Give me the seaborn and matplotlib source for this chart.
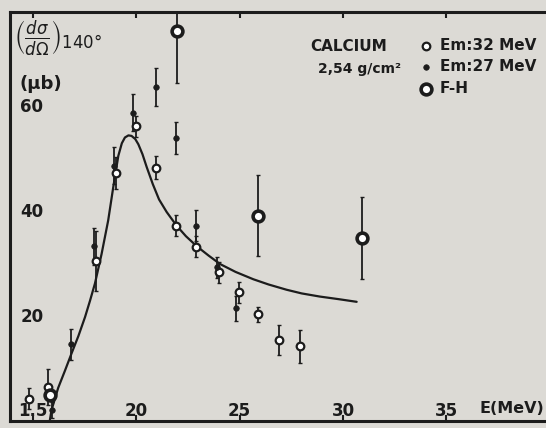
import matplotlib.pyplot as plt
import seaborn as sns

# Em : 32 MeV  (small open circles)
e32 = [14.8, 15.74, 18.05, 19.0, 20.0, 20.95, 21.92, 22.9, 24.0, 24.98, 25.9, 26.9, 27.9]
v32 = [4.0, 6.3, 30.2, 47.0, 55.9, 48.0, 37.0, 33.0, 28.1, 24.3, 20.1, 15.2, 14.0]
d32 = [2.0, 3.4, 5.7, 3.0, 2.0, 2.2, 2.0, 2.0, 2.0, 2.0, 1.5, 2.8, 3.1]

# Em : 27 MeV  (filled dots)
e27 = [15.9, 16.85, 17.97, 18.9, 19.85, 20.97, 21.92, 22.9, 23.92, 24.82]
v27 = [1.9, 14.4, 33.1, 48.4, 58.5, 63.4, 53.7, 37.0, 29.1, 21.3]
d27 = [1.5, 3.0, 3.5, 3.5, 3.5, 3.6, 3.1, 3.0, 2.0, 2.4]

# F-H  (bold circles)
efh = [15.82, 21.98, 25.9, 30.93]
vfh = [4.8, 74.1, 38.9, 34.6]
dfh = [1.0, 10.0, 7.7, 7.8]

# fitted curve
curve_e = [15.82, 15.9, 16.22, 16.55, 16.87, 17.2, 17.52, 17.76, 18.0, 18.32, 18.64,
           18.88, 19.13, 19.3, 19.45, 19.62, 19.77, 19.95, 20.1, 20.3, 20.5, 20.8,
           21.1, 21.47, 21.95, 22.4, 22.92, 23.5, 24.05, 24.8, 25.66, 26.4, 27.27,
           28.0, 28.88, 29.8, 30.66]
curve_v = [0.0, 1.9, 6.1, 9.4, 12.7, 16.0, 19.6, 22.7, 26.0, 31.6, 38.0,
           44.2, 50.3, 52.7, 53.8, 54.2, 54.1, 53.5, 52.5, 50.6, 48.2, 44.9,
           42.0, 39.6, 37.0, 35.0, 33.1, 31.3, 29.7, 28.2, 26.8, 25.8, 24.8,
           24.1, 23.5, 23.0, 22.5]

xticks = [15, 20, 25, 30, 35]
xticklabels = ['1.5', '20', '25', '30', '35']
yticks = [20, 40, 60]

bg = '#dcdad5'
ink = '#1c1c1c'

sns.set_style('white', {'axes.facecolor': bg, 'figure.facecolor': bg})
plt.rcParams['font.family'] = ['DejaVu Sans']

fig = plt.figure(figsize=(5.46, 4.28), dpi=100)
ax = fig.add_axes([10 / 546, 7 / 428, 536 / 546, 409 / 428])

sns.lineplot(x=curve_e, y=curve_v, sort=False, estimator=None, color=ink, lw=1.6, ax=ax)

ax.errorbar(e32, v32, yerr=d32, fmt='none', ecolor=ink, elinewidth=1.3, capsize=1.5)
ax.errorbar(e27, v27, yerr=d27, fmt='none', ecolor=ink, elinewidth=1.3, capsize=1.5)
ax.errorbar(efh, vfh, yerr=dfh, fmt='none', ecolor=ink, elinewidth=1.3, capsize=1.5)

sns.scatterplot(x=e32, y=v32, marker='o', s=30, facecolor='white', edgecolor=ink,
                linewidth=1.6, ax=ax, label='Em:32 MeV', zorder=5)
sns.scatterplot(x=e27, y=v27, marker='o', s=16, color=ink, edgecolor=ink,
                linewidth=0.5, ax=ax, label='Em:27 MeV', zorder=5)
sns.scatterplot(x=efh, y=vfh, marker='o', s=60, facecolor='white', edgecolor=ink,
                linewidth=2.6, ax=ax, label='F-H', zorder=6)

ax.set_xlim(13.89, 39.82)
ax.set_ylim(-0.2, 77.7)
ax.set_xticks(xticks)
ax.set_xticklabels(xticklabels)
ax.set_yticks(yticks)
ax.tick_params(axis='x', direction='in', pad=-14, length=4, width=1.5, top=True,
               bottom=True, labelsize=12, colors=ink)
ax.tick_params(axis='y', direction='in', pad=-24, length=3, width=1.5,
               labelsize=12, colors=ink)
for lab in ax.get_xticklabels() + ax.get_yticklabels():
    lab.set_fontweight('bold')

for side in ['left', 'top', 'bottom']:
    ax.spines[side].set_color(ink)
    ax.spines[side].set_linewidth(2.2)
ax.spines['right'].set_visible(False)

ax.text(0.008, 0.985, r'$\left(\frac{d\sigma}{d\Omega}\right)_{140°}$', transform=ax.transAxes,
        fontsize=17, color=ink, ha='left', va='top')
ax.text(0.018, 0.825, '(μb)', transform=ax.transAxes, fontsize=13, fontweight='bold',
        color=ink, ha='left', va='center')
ax.text(0.997, 0.012, 'E(MeV)', transform=ax.transAxes, fontsize=11.5, fontweight='bold',
        color=ink, ha='right', va='bottom')
ax.text(0.56, 0.915, 'CALCIUM', transform=ax.transAxes, fontsize=11, fontweight='bold',
        color=ink, ha='left', va='center')
ax.text(0.575, 0.86, '2,54 g/cm²', transform=ax.transAxes, fontsize=10, fontweight='bold',
        color=ink, ha='left', va='center')

leg = ax.legend(loc='upper left', bbox_to_anchor=(0.745, 0.955), frameon=False,
                handletextpad=0.3, labelspacing=0.42, handlelength=1.2, borderpad=0,
                prop={'size': 11, 'weight': 'bold'})
for t in leg.get_texts():
    t.set_color(ink)

fig.savefig('out.png', dpi=100, facecolor=bg)
